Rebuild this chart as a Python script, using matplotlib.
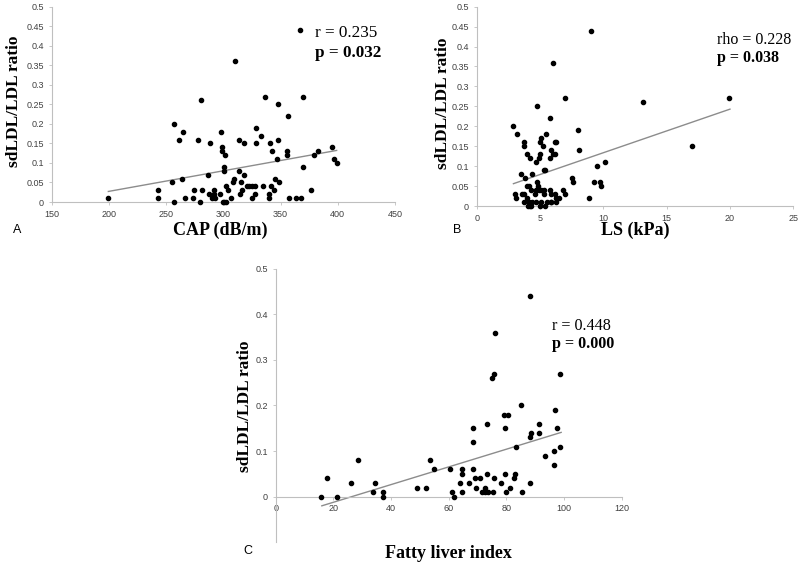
import matplotlib
matplotlib.use('Agg')
import matplotlib.pyplot as plt
from matplotlib.ticker import FuncFormatter

# panel A: CAP vs sdLDL/LDL ratio
cap = [199.5, 243, 242.6, 255.4, 256.6, 257.2, 261.3, 263.6, 264.8, 266.5,
       273.5, 274.4, 277.6, 279.3, 280.5, 281.7, 286.6, 287.5, 288.4, 290.4,
       291.6, 292.1, 292.7, 297.4, 298.3, 298.6, 298.6, 299.4, 300.9, 302,
       300.6, 300.6, 301.8, 302.3, 304.4, 307, 308.8, 309.6, 310.5, 313.7,
       313.7, 314.6, 315.4, 316.3, 317.8, 317.8, 320.4, 322.7, 325.1, 327.4,
       324.8, 328.6, 328.6, 328, 332.6, 334.7, 336.7, 339.6, 340.2, 340.8,
       341.7, 342.8, 344, 344.9, 346.6, 347.5, 347.8, 349, 355.9, 355.9,
       356.8, 357.1, 363.8, 367.6, 367.3, 370, 370, 376.6, 379, 383,
       394.7, 397, 399]
cap_ratio = [0.01, 0.03, 0.01, 0.05, 0.20, 0.00, 0.16, 0.06, 0.18, 0.01,
             0.01, 0.03, 0.16, 0.00, 0.26, 0.03, 0.07, 0.02, 0.15, 0.01,
             0.03, 0.02, 0.01, 0.02, 0.18, 0.14, 0.13, 0.00, 0.00, 0.00,
             0.09, 0.08, 0.12, 0.04, 0.03, 0.01, 0.05, 0.06, 0.36, 0.16,
             0.08, 0.02, 0.05, 0.03, 0.15, 0.07, 0.04, 0.04, 0.04, 0.04,
             0.01, 0.19, 0.15, 0.02, 0.17, 0.04, 0.27, 0.02, 0.01, 0.15,
             0.04, 0.13, 0.03, 0.06, 0.11, 0.25, 0.16, 0.05, 0.13, 0.12,
             0.22, 0.01, 0.01, 0.01, 0.44, 0.27, 0.09, 0.03, 0.12, 0.13,
             0.14, 0.11, 0.10]
cap_trend_x = [199.5, 399]
cap_trend_y = [0.027, 0.132]

# panel B: LS vs ratio
ls = [2.84, 3.0, 3.1, 3.2, 3.5, 3.55, 3.7, 3.7, 3.7, 3.7,
      3.85, 4.0, 4.1, 4.0, 4.0, 4.1, 4.2, 4.05, 4.2, 4.3,
      4.4, 4.4, 4.3, 4.6, 4.7, 4.7, 4.7, 4.8, 4.8, 4.85,
      4.9, 4.9, 5.0, 5.0, 5.0, 5.1, 5.1, 5.3, 5.1, 5.2,
      5.3, 5.3, 5.4, 5.4, 5.5, 5.55, 5.8, 5.8, 5.8, 5.85,
      5.9, 5.9, 5.9, 6.0, 6.05, 6.2, 6.2, 6.3, 6.2, 6.25,
      6.5, 6.3, 6.8, 7.0, 7.0, 7.5, 7.6, 8.0, 8.1, 8.9,
      9.0, 9.3, 9.5, 9.7, 9.8, 10.1, 13.1, 17.0, 19.95]
ls_ratio = [0.20, 0.03, 0.02, 0.18, 0.08, 0.03, 0.15, 0.16, 0.03, 0.01,
            0.07, 0.05, 0.05, 0.13, 0.02, 0.01, 0.12, 0.00, 0.00, 0.04,
            0.08, 0.01, 0.00, 0.03, 0.04, 0.11, 0.01, 0.25, 0.06, 0.05,
            0.12, 0.04, 0.00, 0.16, 0.13, 0.17, 0.04, 0.04, 0.01, 0.15,
            0.03, 0.09, 0.09, 0.00, 0.18, 0.01, 0.22, 0.12, 0.04, 0.01,
            0.01, 0.14, 0.03, 0.36, 0.13, 0.13, 0.16, 0.16, 0.03, 0.02,
            0.02, 0.01, 0.04, 0.27, 0.03, 0.07, 0.06, 0.19, 0.14, 0.02,
            0.44, 0.06, 0.10, 0.06, 0.05, 0.11, 0.26, 0.15, 0.27]
ls_trend_x = [2.9, 20.0]
ls_trend_y = [0.056, 0.243]

# panel C: fatty liver index vs ratio
fli = [15.6, 17.7, 21.4, 26.2, 28.6, 33.8, 34.6, 37.2, 37.2, 49.0,
       52.3, 53.4, 55.0, 60.5, 61.3, 61.8, 64.0, 64.5, 64.7, 64.5,
       67.0, 68.3, 68.4, 68.4, 69.2, 69.5, 70.9, 71.7, 72.5, 72.7,
       73.4, 73.4, 73.5, 75.0, 75.7, 76.1, 75.6, 75.5, 78.3, 79.3,
       80.7, 79.4, 79.4, 79.8, 81.4, 82.8, 83.1, 83.4, 85.2, 85.3,
       88.2, 88.2, 88.6, 88.3, 91.4, 91.4, 93.4, 96.4, 96.6, 96.9,
       97.5, 98.6, 98.7]
fli_ratio = [0.00, 0.04, 0.00, 0.03, 0.08, 0.01, 0.03, 0.01, 0.00, 0.02,
             0.02, 0.08, 0.06, 0.06, 0.01, 0.00, 0.03, 0.06, 0.05, 0.01,
             0.03, 0.15, 0.12, 0.06, 0.04, 0.02, 0.04, 0.01, 0.02, 0.01,
             0.05, 0.16, 0.01, 0.26, 0.27, 0.36, 0.04, 0.01, 0.03, 0.18,
             0.18, 0.15, 0.05, 0.01, 0.02, 0.04, 0.05, 0.11, 0.20, 0.01,
             0.44, 0.13, 0.14, 0.03, 0.16, 0.14, 0.09, 0.07, 0.10, 0.19,
             0.15, 0.11, 0.27]
fli_trend_x = [16.0, 99.0]
fli_trend_y = [-0.02, 0.141]

W, H = 800, 565
serif = 'Liberation Serif'
axis_grey = '#BFBFBF'
tick_grey = '#404040'


def px_axes(fig, x0, x1, y_top, y_bot):
    return fig.add_axes([x0 / W, 1 - y_bot / H, (x1 - x0) / W, (y_bot - y_top) / H])


def style(ax, xlim, ylim, xticks, yticks):
    ax.set_xlim(*xlim)
    ax.set_ylim(*ylim)
    ax.set_xticks(xticks)
    ax.set_yticks(yticks)
    for s in ['top', 'right']:
        ax.spines[s].set_visible(False)
    for s in ['left', 'bottom']:
        ax.spines[s].set_color(axis_grey)
        ax.spines[s].set_linewidth(0.8)
    ax.spines['bottom'].set_position(('data', 0))
    ax.tick_params(length=2.5, width=0.6, color=axis_grey, labelsize=6.5,
                   labelcolor=tick_grey, pad=3)
    for lab in ax.get_xticklabels() + ax.get_yticklabels():
        lab.set_family('Liberation Sans')
    ax.yaxis.set_major_formatter(FuncFormatter(lambda v, p: f'{v:g}'))
    ax.patch.set_alpha(0)


def scatter(ax, x, y, tx, ty):
    ax.scatter(x, y, s=9, color='black', zorder=3, clip_on=False)
    ax.plot(tx, ty, color='#8C8C8C', lw=1.0, zorder=2)


def stats(x, y1, y2, first, second, size):
    fig.text(x / W, 1 - y1 / H, first, family=serif, fontsize=size, va='center')
    fig.text(x / W, 1 - y2 / H, second, family=serif, fontsize=size, weight='bold', va='center')


def labels(xlab, xpos, ypos, letterpos):
    fig.text(xpos[0] / W, 1 - xpos[1] / H, xlab, family=serif, fontsize=13, weight='bold',
             ha='center', va='center')
    fig.text(ypos[0] / W, 1 - ypos[1] / H, 'sdLDL/LDL ratio', family=serif, fontsize=12.5,
             weight='bold', rotation=90, ha='center', va='center')
    fig.text(letterpos[1] / W, 1 - letterpos[2] / H, letterpos[0], family='Liberation Sans',
             fontsize=9, ha='center', va='center')


fig = plt.figure(figsize=(W / 100, H / 100), dpi=100)

# A
axA = px_axes(fig, 51.7, 395, 6.7, 202)
style(axA, (150, 450), (0, 0.5), range(150, 451, 50), [i * 0.05 for i in range(11)])
scatter(axA, cap, cap_ratio, cap_trend_x, cap_trend_y)
stats(315, 33, 53, 'r = 0.235', 'p = 0.032', 12.3)
labels('CAP (dB/m)', (220, 230), (14, 101), ('A', 17, 230))

# B
axB = px_axes(fig, 476.7, 793.3, 6.7, 206)
style(axB, (0, 25), (0, 0.5), range(0, 26, 5), [i * 0.05 for i in range(11)])
scatter(axB, ls, ls_ratio, ls_trend_x, ls_trend_y)
stats(717, 40, 58, 'rho = 0.228', 'p = 0.038', 11.5)
labels('LS (kPa)', (635, 230), (443, 103), ('B', 457, 230))

# C
axC = px_axes(fig, 275.7, 621.7, 268.7, 542.3)
style(axC, (0, 120), (-0.1, 0.5), range(0, 121, 20), [i * 0.1 for i in range(6)])
scatter(axC, fli, fli_ratio, fli_trend_x, fli_trend_y)
stats(552, 326, 344, 'r = 0.448', 'p = 0.000', 11.6)
labels('Fatty liver index', (448, 553), (245, 406), ('C', 248, 551))

fig.savefig('out.png', dpi=100)
